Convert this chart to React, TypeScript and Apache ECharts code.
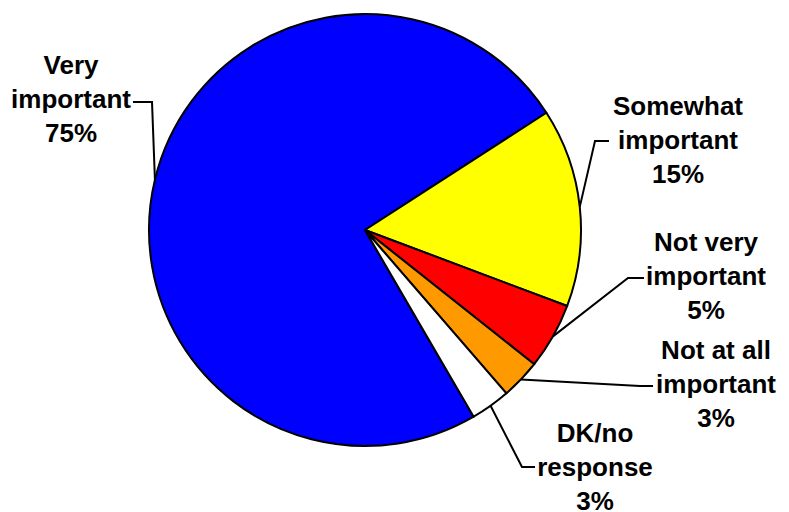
import { useEffect, useRef } from "react";
import * as echarts from "echarts";

// Survey answers, in clockwise order starting from the large slice
const categories = [
  "Very\nimportant",
  "Somewhat\nimportant",
  "Not very\nimportant",
  "Not at all\nimportant",
  "DK/no\nresponse",
];
const shares = [75, 15, 5, 3, 3];
const sliceColors = ["#0000FF", "#FFFF00", "#FF0000", "#FF9900", "#FFFFFF"];

const CENTER: [number, number] = [365, 230];
const RADIUS = 216;
const START_ANGLE = 300.2;

// Text block centre (middle line) and the leader's elbow / end points per label
const labelPlacement = [
  { x: 71, y: 99, elbow: [152, 102], end: [133, 102] },
  { x: 678, y: 140, elbow: [595, 141], end: [609, 141] },
  { x: 706, y: 276, elbow: [628, 278], end: [644, 278] },
  { x: 716, y: 384, elbow: [640, 386], end: [653, 386] },
  { x: 595, y: 467, elbow: [522, 467], end: [535, 467] },
];

// Point on the rim at the middle of a slice, used as the leader's start
function sliceAnchor(index: number): number[] {
  const total = shares.reduce((a, b) => a + b, 0);
  let before = 0;
  for (let i = 0; i < index; i++) before += shares[i];
  const midDeg = START_ANGLE - ((before + shares[index] / 2) / total) * 360;
  const rad = (midDeg * Math.PI) / 180;
  return [CENTER[0] + RADIUS * Math.cos(rad), CENTER[1] - RADIUS * Math.sin(rad)];
}

export default function App() {
  const ref = useRef<HTMLDivElement>(null);

  useEffect(() => {
    if (!ref.current) return;
    const chart = echarts.init(ref.current, undefined, { renderer: "svg" });
    chart.setOption({
      animation: false,
      backgroundColor: "#FFFFFF",
      series: [
        {
          type: "pie",
          center: CENTER,
          radius: RADIUS,
          startAngle: START_ANGLE,
          clockwise: true,
          avoidLabelOverlap: false,
          silent: true,
          data: categories.map((name, i) => ({
            name,
            value: shares[i],
            itemStyle: { color: sliceColors[i] },
          })),
          itemStyle: { borderColor: "#000000", borderWidth: 2 },
          label: {
            show: true,
            position: "outside",
            formatter: (p: any) => `${p.name}\n${p.value}%`,
            color: "#000000",
            fontFamily: "'Liberation Sans', Arial, sans-serif",
            fontWeight: "bold",
            fontSize: 26,
            lineHeight: 34,
            align: "center",
          },
          labelLine: {
            show: true,
            length: 20,
            length2: 15,
            lineStyle: { color: "#000000", width: 2 },
          },
          labelLayout: (params: any) => {
            const place = labelPlacement[params.dataIndex];
            return {
              x: place.x,
              y: place.y,
              align: "center",
              verticalAlign: "middle",
              labelLinePoints: [sliceAnchor(params.dataIndex), place.elbow, place.end],
            };
          },
          emphasis: { disabled: true },
        },
      ],
    });
    return () => chart.dispose();
  }, []);

  return (
    <div
      ref={ref}
      style={{ position: "fixed", left: 0, top: 0, width: 789, height: 512 }}
    />
  );
}
